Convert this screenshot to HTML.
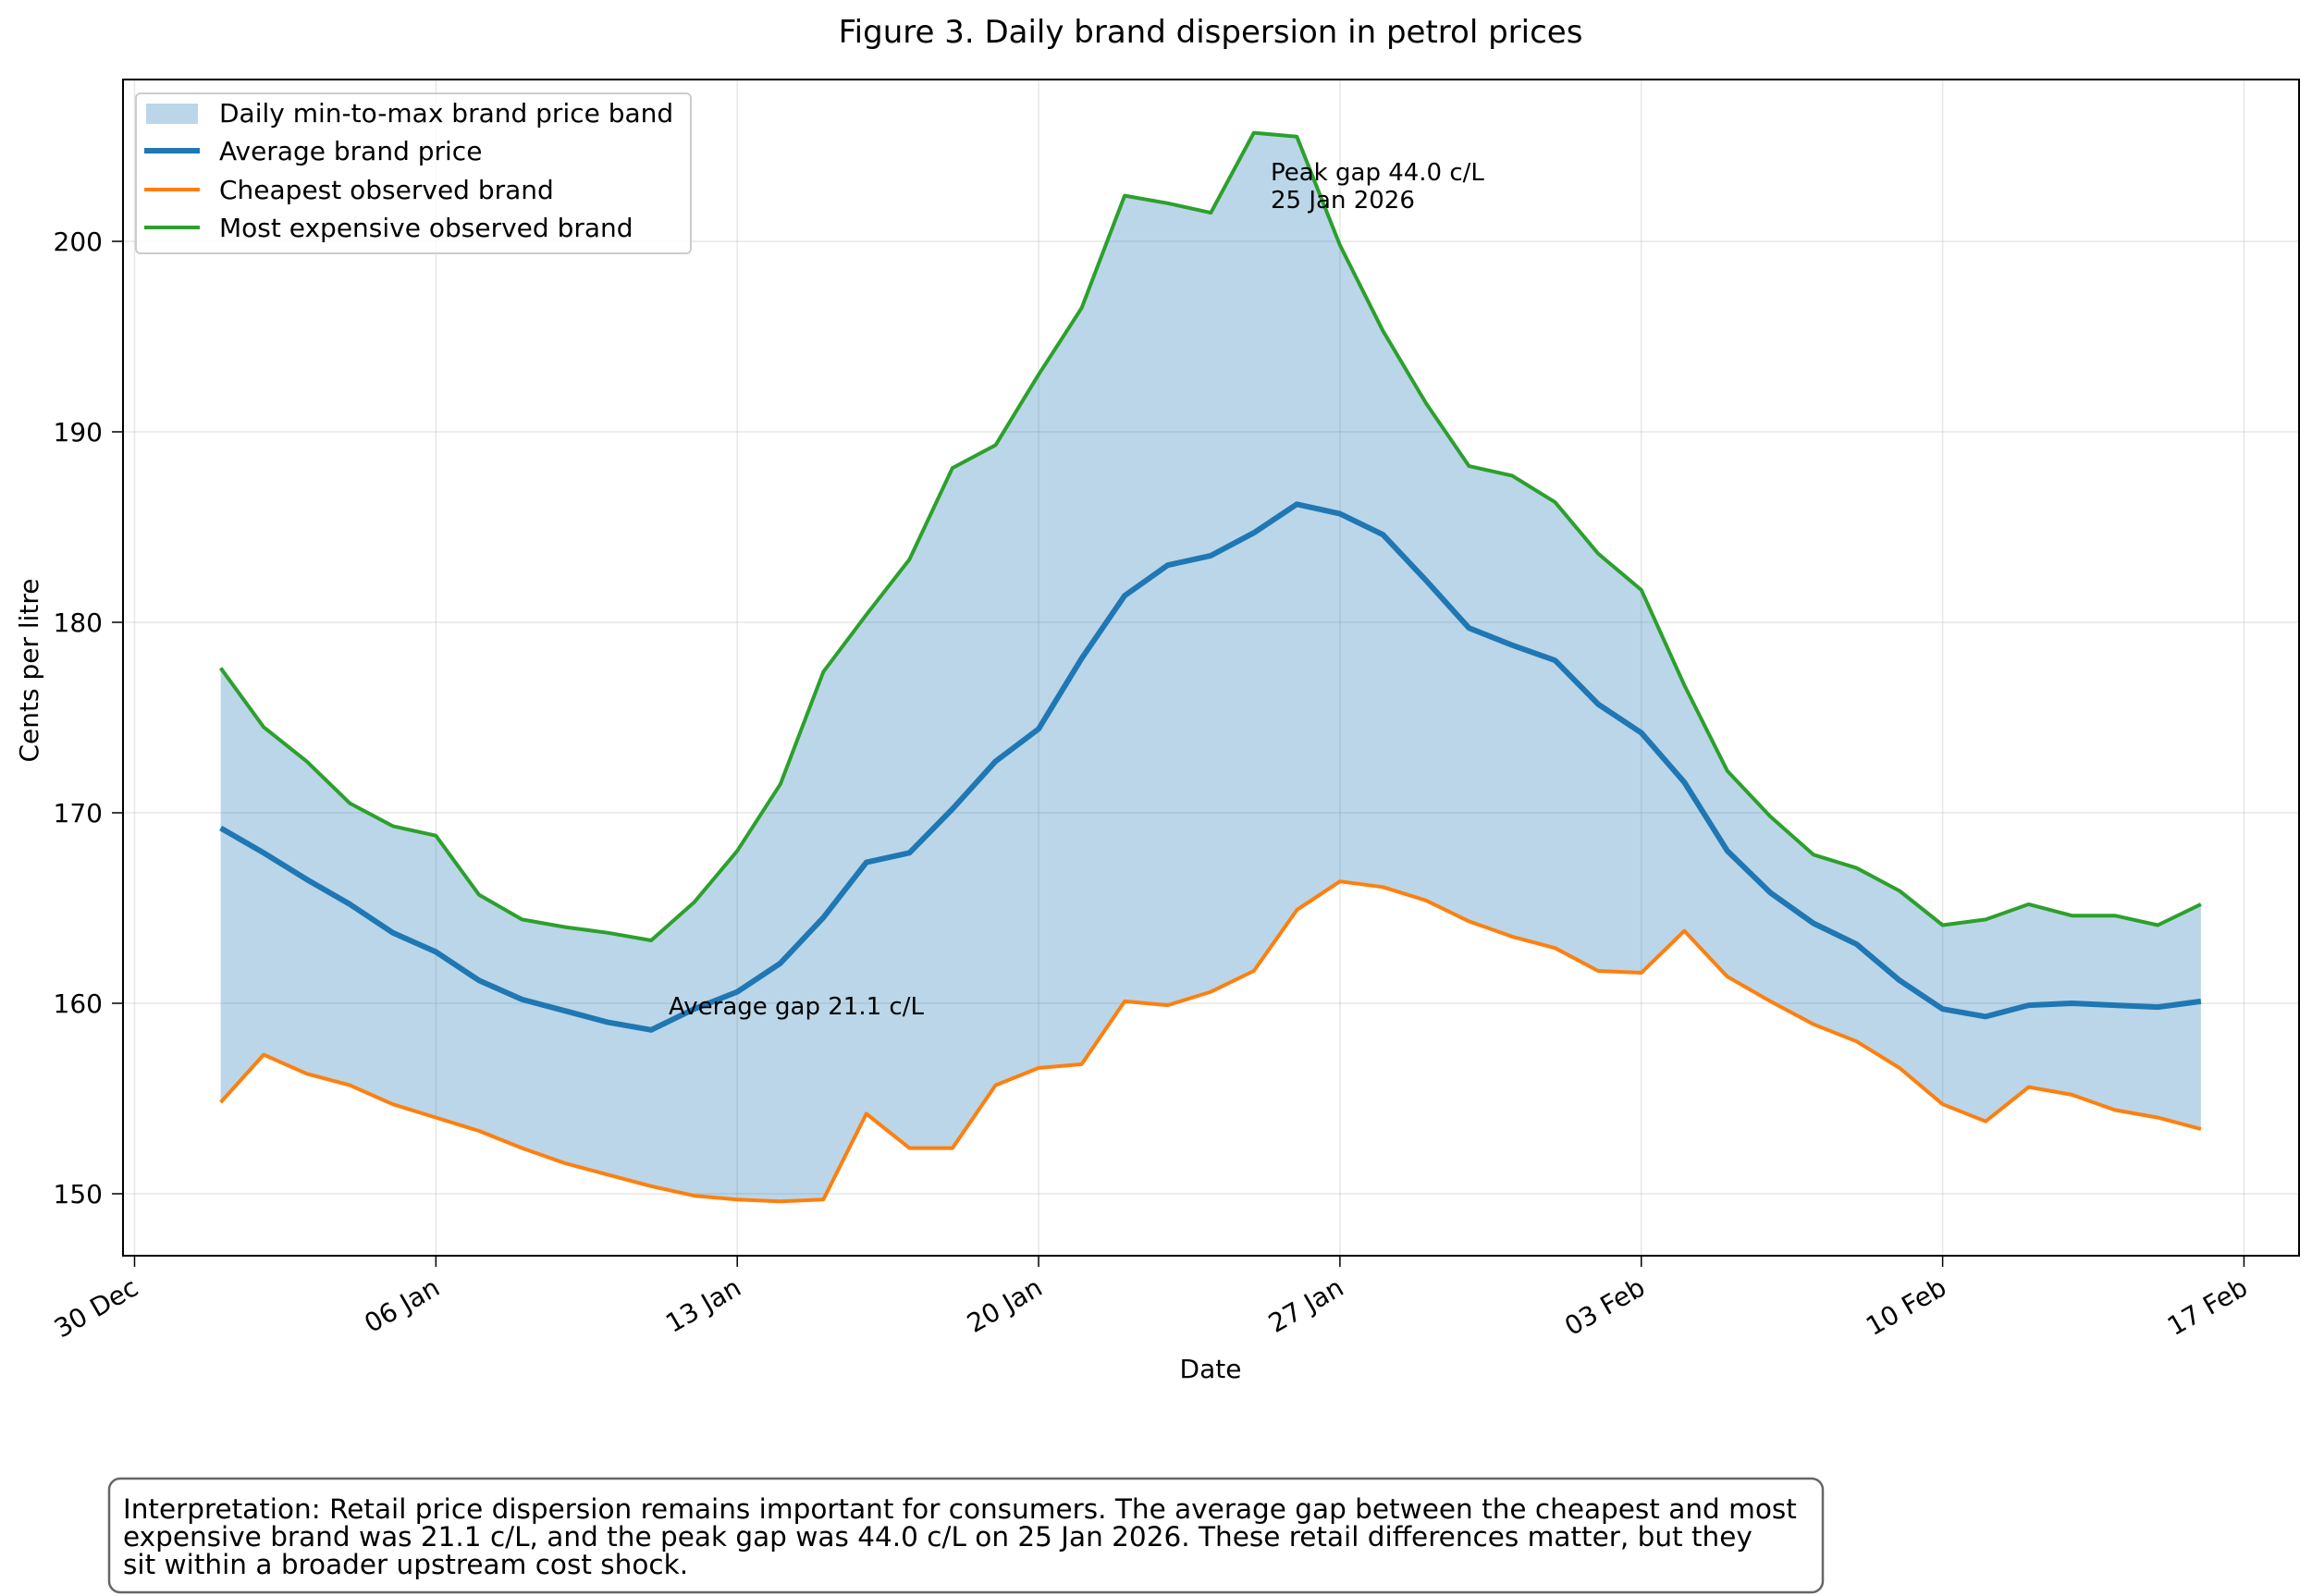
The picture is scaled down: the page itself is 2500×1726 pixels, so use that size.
<!DOCTYPE html>
<html><head><meta charset="utf-8"><style>
html,body{margin:0;padding:0;background:#fff;}
svg{display:block;font-family:"DejaVu Sans","Liberation Sans",sans-serif;}
</style></head><body>
<svg id="chart" width="2500" height="1726" viewBox="0 0 2500 1726">
<text x="1309" y="46" text-anchor="middle" font-size="34">Figure 3. Daily brand dispersion in petrol prices</text>
<g id="grid"></g>
<g id="plot"></g>
<rect x="133" y="86" width="2353" height="1272" fill="none" stroke="#000" stroke-width="2"/>
<g id="axes"></g>
<text x="1309" y="1490" text-anchor="middle" font-size="28">Date</text>
<text transform="translate(41,725) rotate(-90)" text-anchor="middle" font-size="28">Cents per litre</text>
<text x="1374" y="195" font-size="26"><tspan x="1374">Peak gap 44.0 c/L</tspan><tspan x="1374" dy="30">25 Jan 2026</tspan></text>
<text x="723" y="1097" font-size="26">Average gap 21.1 c/L</text>
<g>
<rect x="147" y="101" width="600" height="173" rx="5" fill="#fff" fill-opacity="0.8" stroke="#ccc" stroke-width="2"/>
<rect x="158" y="112" width="56" height="22" fill="#1f77b4" fill-opacity="0.3"/>
<text x="237" y="132" font-size="28">Daily min-to-max brand price band</text>
<line x1="156" y1="163" x2="216" y2="163" stroke="#1f77b4" stroke-width="6"/>
<text x="237" y="173" font-size="28">Average brand price</text>
<line x1="156" y1="205" x2="216" y2="205" stroke="#ff7f0e" stroke-width="4"/>
<text x="237" y="215" font-size="28">Cheapest observed brand</text>
<line x1="156" y1="246" x2="216" y2="246" stroke="#2ca02c" stroke-width="4"/>
<text x="237" y="256" font-size="28">Most expensive observed brand</text>
</g>
<g>
<rect x="118" y="1599" width="1853" height="123" rx="12" fill="#fff" stroke="#666" stroke-width="2.5"/>
<text font-size="29.5"><tspan x="133" y="1642">Interpretation: Retail price dispersion remains important for consumers. The average gap between the cheapest and most</tspan><tspan x="133" y="1672">expensive brand was 21.1 c/L, and the peak gap was 44.0 c/L on 25 Jan 2026. These retail differences matter, but they</tspan><tspan x="133" y="1702">sit within a broader upstream cost shock.</tspan></text>
</g>
</svg>
<script>
const maxVals=[177.6,174.5,172.7,170.5,169.3,168.8,165.7,164.4,164.0,163.7,163.3,165.3,168.0,171.5,177.4,180.4,183.3,188.1,189.3,193.0,196.5,202.4,202.0,201.5,205.7,205.5,199.8,195.3,191.5,188.2,187.7,186.3,183.6,181.7,176.7,172.2,169.8,167.8,167.1,165.9,164.1,164.4,165.2,164.6,164.6,164.1,165.2];
const avgVals=[169.2,167.9,166.5,165.2,163.7,162.7,161.2,160.2,159.6,159.0,158.6,159.7,160.6,162.1,164.5,167.4,167.9,170.2,172.7,174.4,178.1,181.4,183.0,183.5,184.7,186.2,185.7,184.6,182.2,179.7,178.8,178.0,175.7,174.2,171.6,168.0,165.8,164.2,163.1,161.2,159.7,159.3,159.9,160.0,159.9,159.8,160.1];
const minVals=[154.8,157.3,156.3,155.7,154.7,154.0,153.3,152.4,151.6,151.0,150.4,149.9,149.7,149.6,149.7,154.2,152.4,152.4,155.7,156.6,156.8,160.1,159.9,160.6,161.7,164.9,166.4,166.1,165.4,164.3,163.5,162.9,161.7,161.6,163.8,161.4,160.1,158.9,158.0,156.6,154.7,153.8,155.6,155.2,154.4,154.0,153.4];
const firstDay=2;
const xTickLabels=["30 Dec","06 Jan","13 Jan","20 Jan","27 Jan","03 Feb","10 Feb","17 Feb"];
const xTickDays=[0,7,14,21,28,35,42,49];
const yTicks=[150,160,170,180,190,200];

const NS="http://www.w3.org/2000/svg";
function x(day){return 145.5+day*46.55;}
function y(v){return 261+(200-v)*20.6;}
function mk(tag,attrs,parent){const e=document.createElementNS(NS,tag);for(const k in attrs)e.setAttribute(k,attrs[k]);parent.appendChild(e);return e;}
const grid=document.getElementById('grid'),plot=document.getElementById('plot'),axes=document.getElementById('axes');

xTickDays.forEach((d,i)=>{
  const gl=mk('line',{x1:x(d),x2:x(d),y1:86,y2:1358,stroke:'#b0b0b0','stroke-opacity':0.3,'stroke-width':1.5},grid);
  
  
  const t=mk('line',{x1:x(d),x2:x(d),y1:1358,y2:1370,stroke:'#000','stroke-width':1.5},axes);
  
  
  const tx=mk('text',{x:0,y:0,'font-size':28,'text-anchor':'end',transform:`translate(${x(d)+6},${1398}) rotate(-30)`},axes);
  tx.textContent=xTickLabels[i];
  
  
});
yTicks.forEach(v=>{
  const gl=mk('line',{x1:133,x2:2486,y1:y(v),y2:y(v),stroke:'#b0b0b0','stroke-opacity':0.3,'stroke-width':1.5},grid);
  
  
  const t=mk('line',{x1:121,x2:133,y1:y(v),y2:y(v),stroke:'#000','stroke-width':1.5},axes);
  
  
  const tx=mk('text',{x:111,y:y(v)+10,'font-size':28,'text-anchor':'end'},axes);
  tx.textContent=v;
  
  
});
function pts(arr){return arr.map((v,i)=>`${x(firstDay+i).toFixed(1)},${y(v).toFixed(1)}`);}
const band=mk('polygon',{points:pts(maxVals).concat(pts(minVals).reverse()).join(' '),fill:'#1f77b4','fill-opacity':0.3},plot);


const la=mk('polyline',{points:pts(avgVals).join(' '),fill:'none',stroke:'#1f77b4','stroke-width':6,'stroke-linejoin':'round'},plot);


const lmin=mk('polyline',{points:pts(minVals).join(' '),fill:'none',stroke:'#ff7f0e','stroke-width':4,'stroke-linejoin':'round'},plot);


const lmax=mk('polyline',{points:pts(maxVals).join(' '),fill:'none',stroke:'#2ca02c','stroke-width':4,'stroke-linejoin':'round'},plot);


</script>
</body></html>
